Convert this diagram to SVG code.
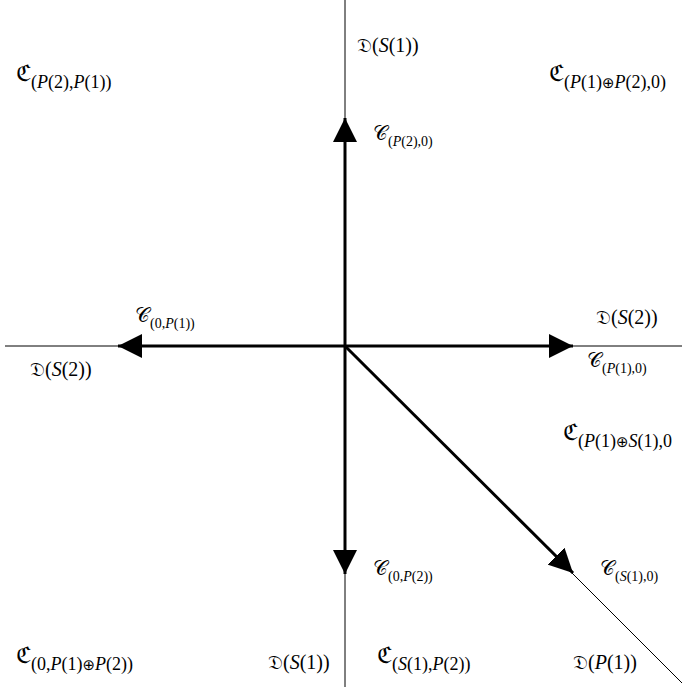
<svg xmlns="http://www.w3.org/2000/svg" width="682" height="687" viewBox="0 0 682 687">
<style>
text{font-family:"Liberation Serif","DejaVu Serif",serif;font-size:20px;fill:#000}
.s{font-size:14px}
.sb{font-size:18px}
.i{font-style:italic}
.big{font-size:23px}
.op{font-family:"DejaVu Sans",sans-serif;font-size:15px;font-weight:normal}
.thin{stroke:#000;stroke-width:1;fill:none}
.thick{stroke:#000;stroke-width:3;fill:none}
</style>
<defs>
<marker id="ah" markerWidth="8" markerHeight="8" refX="8" refY="4" orient="auto" markerUnits="strokeWidth">
<path d="M0,0 L8,4 L0,8 Z" fill="#000"/>
</marker>
</defs>
<g id="connectors">
<line class="thin" x1="345" y1="0" x2="345" y2="687"/>
<line class="thin" x1="5" y1="346" x2="682" y2="346"/>
<line class="thin" x1="345" y1="346" x2="682" y2="683"/>
<line class="thick" x1="345" y1="346" x2="345" y2="118" marker-end="url(#ah)"/>
<line class="thick" x1="345" y1="346" x2="118" y2="346" marker-end="url(#ah)"/>
<line class="thick" x1="345" y1="346" x2="573" y2="346" marker-end="url(#ah)"/>
<line class="thick" x1="345" y1="346" x2="345" y2="574" marker-end="url(#ah)"/>
<line class="thick" x1="345" y1="346" x2="573" y2="573" marker-end="url(#ah)"/>
</g>
<g id="n1"><text x="16" y="81"><tspan class="big">ℭ</tspan><tspan class="sb" dy="7">(<tspan class="i">P</tspan>(2),<tspan class="i">P</tspan>(1))</tspan></text></g>
<g id="n2"><text x="357" y="52">𝔇(<tspan class="i">S</tspan>(1))</text></g>
<g id="n3"><text x="373" y="140">𝒞<tspan class="s" dy="6">(<tspan class="i">P</tspan>(2),0)</tspan></text></g>
<g id="n4"><text x="549" y="81"><tspan class="big">ℭ</tspan><tspan class="sb" dy="7">(<tspan class="i">P</tspan>(1)<tspan class="op">⊕</tspan><tspan class="i">P</tspan>(2),0)</tspan></text></g>
<g id="n5"><text x="135" y="322">𝒞<tspan class="s" dy="6">(0,<tspan class="i">P</tspan>(1))</tspan></text></g>
<g id="n6"><text x="30" y="376">𝔇(<tspan class="i">S</tspan>(2))</text></g>
<g id="n7"><text x="596" y="324">𝔇(<tspan class="i">S</tspan>(2))</text></g>
<g id="n8"><text x="587" y="367">𝒞<tspan class="s" dy="6">(<tspan class="i">P</tspan>(1),0)</tspan></text></g>
<g id="n9"><text x="563" y="440"><tspan class="big">ℭ</tspan><tspan class="sb" dy="7">(<tspan class="i">P</tspan>(1)<tspan class="op">⊕</tspan><tspan class="i">S</tspan>(1),0</tspan></text></g>
<g id="n10"><text x="373" y="575">𝒞<tspan class="s" dy="6">(0,<tspan class="i">P</tspan>(2))</tspan></text></g>
<g id="n11"><text x="600" y="575">𝒞<tspan class="s" dy="6">(<tspan class="i">S</tspan>(1),0)</tspan></text></g>
<g id="n12"><text x="16" y="663"><tspan class="big">ℭ</tspan><tspan class="sb" dy="7">(0,<tspan class="i">P</tspan>(1)<tspan class="op">⊕</tspan><tspan class="i">P</tspan>(2))</tspan></text></g>
<g id="n13"><text x="268" y="669">𝔇(<tspan class="i">S</tspan>(1))</text></g>
<g id="n14"><text x="377" y="663"><tspan class="big">ℭ</tspan><tspan class="sb" dy="7">(<tspan class="i">S</tspan>(1),<tspan class="i">P</tspan>(2))</tspan></text></g>
<g id="n15"><text x="573" y="669">𝔇(<tspan class="i">P</tspan>(1))</text></g>
</svg>
